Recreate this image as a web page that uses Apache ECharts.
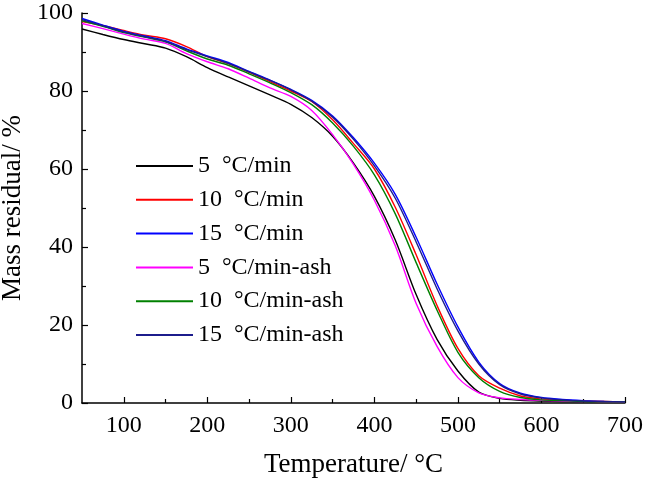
<!DOCTYPE html>
<html>
<head>
<meta charset="utf-8">
<script src="https://cdn.jsdelivr.net/npm/echarts@6/dist/echarts.min.js"></script>
<style>html,body{margin:0;padding:0;background:#fff;}#c{width:645px;height:482px;}</style>
</head>
<body>
<div id="c"></div>
<script>
const temperature = [50,75,100,125,150,175,200,225,250,275,300,325,350,375,400,425,450,475,500,525,550,575,600,625,650,675,700];
const rate5    = [95.9,94.5,93.2,92.1,91.0,88.8,86.0,83.6,81.3,79.0,76.6,73.2,68.4,61.5,53.0,41.8,27.8,16.3,8.2,2.8,1.2,0.7,0.5,0.4,0.3,0.2,0.2];
const rate10   = [97.8,96.8,95.5,94.3,93.4,91.4,88.8,87.0,84.8,82.4,80.0,77.3,72.6,66.5,60.0,50.2,38.0,25.0,14.0,7.0,3.8,1.8,1.0,0.7,0.5,0.4,0.3];
const rate15   = [98.6,96.9,95.3,94.1,92.9,90.8,89.0,87.3,85.0,82.8,80.4,77.6,73.6,68.0,61.5,53.5,42.5,30.5,19.5,10.5,5.0,2.5,1.4,0.9,0.6,0.4,0.3];
const rate5Ash = [97.3,96.0,94.6,93.3,92.2,89.6,87.5,85.7,83.3,80.8,78.6,75.0,68.8,61.2,52.0,40.3,25.5,14.5,6.5,2.6,1.3,0.9,0.7,0.5,0.4,0.3,0.3];
const rate10Ash= [98.0,96.6,95.0,93.8,92.6,90.3,88.2,86.6,84.4,82.1,79.6,76.5,71.8,65.8,58.5,48.5,36.0,23.8,13.0,6.5,3.0,1.4,0.8,0.6,0.4,0.3,0.3];
const rate15Ash= [98.3,96.7,95.1,93.9,92.7,90.6,88.8,87.1,84.9,82.7,80.3,77.4,73.3,67.6,60.8,52.5,41.3,29.3,18.5,10.0,4.7,2.3,1.3,0.8,0.5,0.4,0.3];
const seriesNames = ['5  °C/min','10  °C/min','15  °C/min','5  °C/min-ash','10  °C/min-ash','15  °C/min-ash'];
const seriesColors = ['#000000','#ff0000','#0000ff','#ff00ff','#008000','#1c1c8c'];
const xMajorTicks = [100,200,300,400,500,600,700];
const xMinorTicks = [150,250,350,450,550,650];

const allValues = [rate5, rate10, rate15, rate5Ash, rate10Ash, rate15Ash];
const font = '"Liberation Serif", "Times New Roman", serif';

const chart = echarts.init(document.getElementById('c'), null, {renderer:'canvas'});
chart.setOption({
  backgroundColor:'#fff',
  animation:false,
  grid:{left:82,right:20,top:13,bottom:79,containLabel:false,outerBoundsMode:'none'},
  legend:{
    orient:'vertical', left:135, top:154, padding:0,
    itemWidth:57, itemHeight:22, itemGap:9.8,
    itemStyle:{opacity:0},
    textStyle:{fontFamily:font,fontSize:24,color:'#000',lineHeight:22},
    data:seriesNames
  },
  xAxis:[{
    type:'value', min:50, max:700, position:'bottom',
    name:'Temperature/ °C', nameLocation:'middle', nameGap:48,
    nameTextStyle:{fontFamily:font,fontSize:27,color:'#000'},
    axisLine:{show:true,onZero:false,lineStyle:{color:'#000',width:1.5}},
    axisTick:{show:true,inside:true,length:6,customValues:xMajorTicks,lineStyle:{color:'#000',width:1.2}},
    axisLabel:{show:true,margin:11,customValues:xMajorTicks,fontFamily:font,fontSize:24,color:'#000'},
    splitLine:{show:false}
  },{
    type:'value', min:50, max:700, position:'bottom',
    axisLine:{show:false,onZero:false},
    axisTick:{show:true,inside:true,length:4,customValues:xMinorTicks,lineStyle:{color:'#000',width:1.2}},
    axisLabel:{show:false},
    splitLine:{show:false}
  }],
  yAxis:{
    type:'value', min:0, max:100, interval:20,
    name:'Mass residual/ %', nameLocation:'middle', nameGap:48,
    nameTextStyle:{fontFamily:font,fontSize:27,color:'#000'},
    axisLine:{show:true,onZero:false,lineStyle:{color:'#000',width:1.5}},
    axisTick:{show:true,inside:true,length:6,lineStyle:{color:'#000',width:1.2}},
    minorTick:{show:true,splitNumber:2,length:4,lineStyle:{color:'#000',width:1.2}},
    axisLabel:{margin:9,fontFamily:font,fontSize:24,color:'#000'},
    splitLine:{show:false}
  },
  series: seriesNames.map((n,i)=>({
    name:n, type:'line', xAxisIndex:0,
    data: temperature.map((t,j)=>[t, allValues[i][j]]),
    symbol:'none', showSymbol:false,
    smooth:0.3,
    lineStyle:{color:seriesColors[i],width:1.4},
    itemStyle:{color:seriesColors[i]}
  }))
});
</script>
</body>
</html>
